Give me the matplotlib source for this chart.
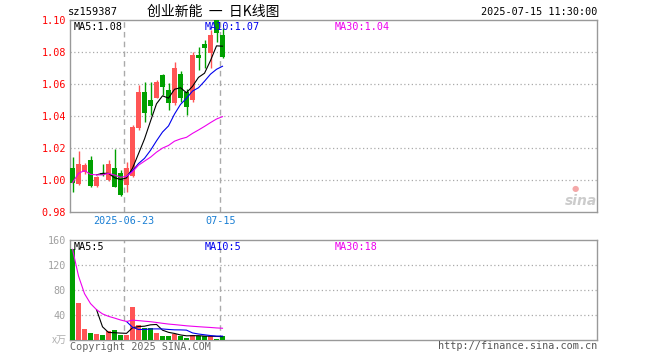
import numpy as np
import pandas as pd
import matplotlib
matplotlib.use("Agg")
import matplotlib.pyplot as plt

# daily candles for 创业新能 (sz159387), 2025-06-10 .. 2025-07-15
opens = [1.0073, 0.9975, 1.0052, 1.0125, 0.9963, 1.0045, 1.0000, 1.0073, 1.0046, 0.9969,
         1.0025, 1.0323, 1.0552, 1.0500, 1.0514, 1.0656, 1.0563, 1.0480, 1.0660, 1.0552,
         1.0500, 1.0781, 1.0848, 1.0794, 1.1000, 1.0906]
highs = [1.0146, 1.0181, 1.0106, 1.0150, 1.0025, 1.0100, 1.0125, 1.0192, 1.0060, 1.0114,
         1.0344, 1.0594, 1.0614, 1.0614, 1.0625, 1.0663, 1.0606, 1.0738, 1.0680, 1.0570,
         1.0800, 1.0833, 1.0875, 1.0938, 1.1021, 1.0950]
lows = [0.9927, 0.9969, 1.0040, 0.9954, 0.9958, 1.0025, 0.9994, 0.9954, 0.9900, 0.9927,
        1.0019, 1.0313, 1.0364, 1.0406, 1.0510, 1.0531, 1.0438, 1.0469, 1.0490, 1.0406,
        1.0490, 1.0688, 1.0700, 1.0700, 1.0863, 1.0763]
closes = [0.9983, 1.0100, 1.0094, 0.9963, 1.0021, 1.0031, 1.0098, 0.9958, 0.9906, 1.0073,
          1.0333, 1.0552, 1.0420, 1.0463, 1.0614, 1.0581, 1.0480, 1.0698, 1.0510, 1.0458,
          1.0781, 1.0761, 1.0827, 1.0906, 1.0917, 1.0771]
# volume in 万
volumes = [145, 59, 17, 10, 9, 7, 13.6, 15, 7, 7,
           52, 23, 18, 18, 10, 6, 5.6, 9, 6, 3,
           7, 5.6, 5.6, 5.6, 1, 5.6]

date_ticks = [9, 25]
date_labels = ["2025-06-23", "07-15"]
price_ticks = [0.98, 1.00, 1.02, 1.04, 1.06, 1.08, 1.10]
vol_ticks = [40, 80, 120, 160]

df = pd.DataFrame({"open": opens, "high": highs, "low": lows, "close": closes, "vol": volumes})
ma5 = df["close"].rolling(5).mean()
ma10 = df["close"].rolling(10).mean()
ma30 = df["close"].rolling(30, min_periods=1).mean()
vma5 = df["vol"].rolling(5).mean()
vma10 = df["vol"].rolling(10).mean()
vma30 = df["vol"].rolling(30, min_periods=1).mean()

RED = "#ff5555"
GREEN = "#00a000"
MONO = "DejaVu Sans Mono"
x = np.arange(len(df))
up = df["close"] >= df["open"]
colors = [RED if u else GREEN for u in up]

fig = plt.figure(figsize=(6.6, 3.6), dpi=100)
W, H = 660, 360
ax = fig.add_axes([70 / W, 1 - 212 / H, 527 / W, 192 / H])
axv = fig.add_axes([70 / W, 1 - 339.5 / H, 527 / W, 99.5 / H])

# candles
ax.vlines(x, df["low"], df["high"], colors=colors, lw=1, zorder=3)
body_low = np.minimum(df["open"], df["close"])
body_h = np.maximum(np.abs(df["close"] - df["open"]), 0.0004)
ax.bar(x, body_h, bottom=body_low, width=0.8, color=colors, zorder=4)
ax.plot(x, ma5, color="black", lw=0.8, zorder=5)
ax.plot(x, ma10, color="#0000ee", lw=0.8, zorder=5)
ax.plot(x, ma30, color="#ee00ee", lw=0.8, zorder=5)

# volume
axv.bar(x, df["vol"], width=0.8, color=colors, zorder=3)
axv.plot(x, vma5, color="black", lw=0.8, zorder=4)
axv.plot(x, vma10, color="#0000ee", lw=0.8, zorder=4)
axv.plot(x, vma30, color="#ee00ee", lw=0.8, zorder=4)

for a in (ax, axv):
    a.set_xlim(-0.42, 87.42)
    for s in a.spines.values():
        s.set_color("#999999")
        s.set_linewidth(1)
    for t in date_ticks:
        a.axvline(t - 0.37, color="#aaaaaa", lw=1, ls=(0, (4, 3)), zorder=1)
    a.tick_params(length=0)

ax.set_ylim(0.98, 1.10)
ax.set_yticks(price_ticks)
ax.set_yticklabels(["%.2f" % v for v in price_ticks], color="#ff0000", fontsize=7.3, family=MONO)
ax.tick_params(axis="y", pad=3)
for v in price_ticks[1:-1]:
    ax.axhline(v, color="#aaaaaa", lw=0.9, ls=(0, (1, 2)), zorder=1)
ax.set_xticks([t - 0.37 for t in date_ticks])
ax.set_xticklabels(date_labels, color="#1a7fd4", fontsize=7.3, family=MONO)
ax.tick_params(axis="x", pad=3)

axv.set_ylim(0, 160)
axv.set_yticks(vol_ticks)
axv.set_yticklabels([str(v) for v in vol_ticks], color="#a0a0a0", fontsize=7.3, family=MONO)
axv.tick_params(axis="y", pad=3)
for v in vol_ticks[:-1]:
    axv.axhline(v, color="#aaaaaa", lw=0.9, ls=(0, (1, 2)), zorder=1)
axv.set_xticks([])


def px(xp, yp):
    return xp / W, 1 - yp / H


# header
fig.text(*px(68, 12), "sz159387", fontsize=7.5, family=MONO, va="center", ha="left")
fig.text(*px(213, 12), "创业新能  一  日K线图", fontsize=10, va="center", ha="center",
         family=["Noto Sans CJK SC", "DejaVu Sans"])
fig.text(*px(597, 12), "2025-07-15 11:30:00", fontsize=7.3, family=MONO, va="center", ha="right")

# MA legends
last = len(df) - 1
fig.text(*px(74, 27), "MA5:%.2f" % ma5[last], fontsize=7.3, family=MONO, va="center", color="black")
fig.text(*px(205, 27), "MA10:%.2f" % ma10[last], fontsize=7.3, family=MONO, va="center", color="#0000ee")
fig.text(*px(335, 27), "MA30:%.2f" % ma30[last], fontsize=7.3, family=MONO, va="center", color="#ee00ee")
fig.text(*px(74, 247), "MA5:%d" % round(vma5[last]), fontsize=7.3, family=MONO, va="center", color="black")
fig.text(*px(205, 247), "MA10:%d" % round(vma10[last]), fontsize=7.3, family=MONO, va="center", color="#0000ee")
fig.text(*px(335, 247), "MA30:%d" % round(vma30[last]), fontsize=7.3, family=MONO, va="center", color="#ee00ee")

# footer / unit
fig.text(*px(67, 340), "x万", fontsize=7.3, va="center", ha="right", color="#b0b0b0", style="italic",
         family=["Noto Sans CJK SC", "DejaVu Sans"])
fig.text(*px(70, 347), "Copyright 2025 SINA.COM", fontsize=7.3, family=MONO, va="center", color="#666666")
fig.text(*px(597, 346), "http://finance.sina.com.cn", fontsize=7.3, family=MONO, va="center",
         ha="right", color="#555555")

# watermark
fig.text(*px(597, 201), "sina", fontsize=10, fontweight="bold", style="italic", ha="right",
         va="center", color="#cccccc")
fig.text(*px(575, 189), "●", fontsize=6, ha="center", va="center", color="#f4a8a8")

fig.savefig("out.png", dpi=100)
